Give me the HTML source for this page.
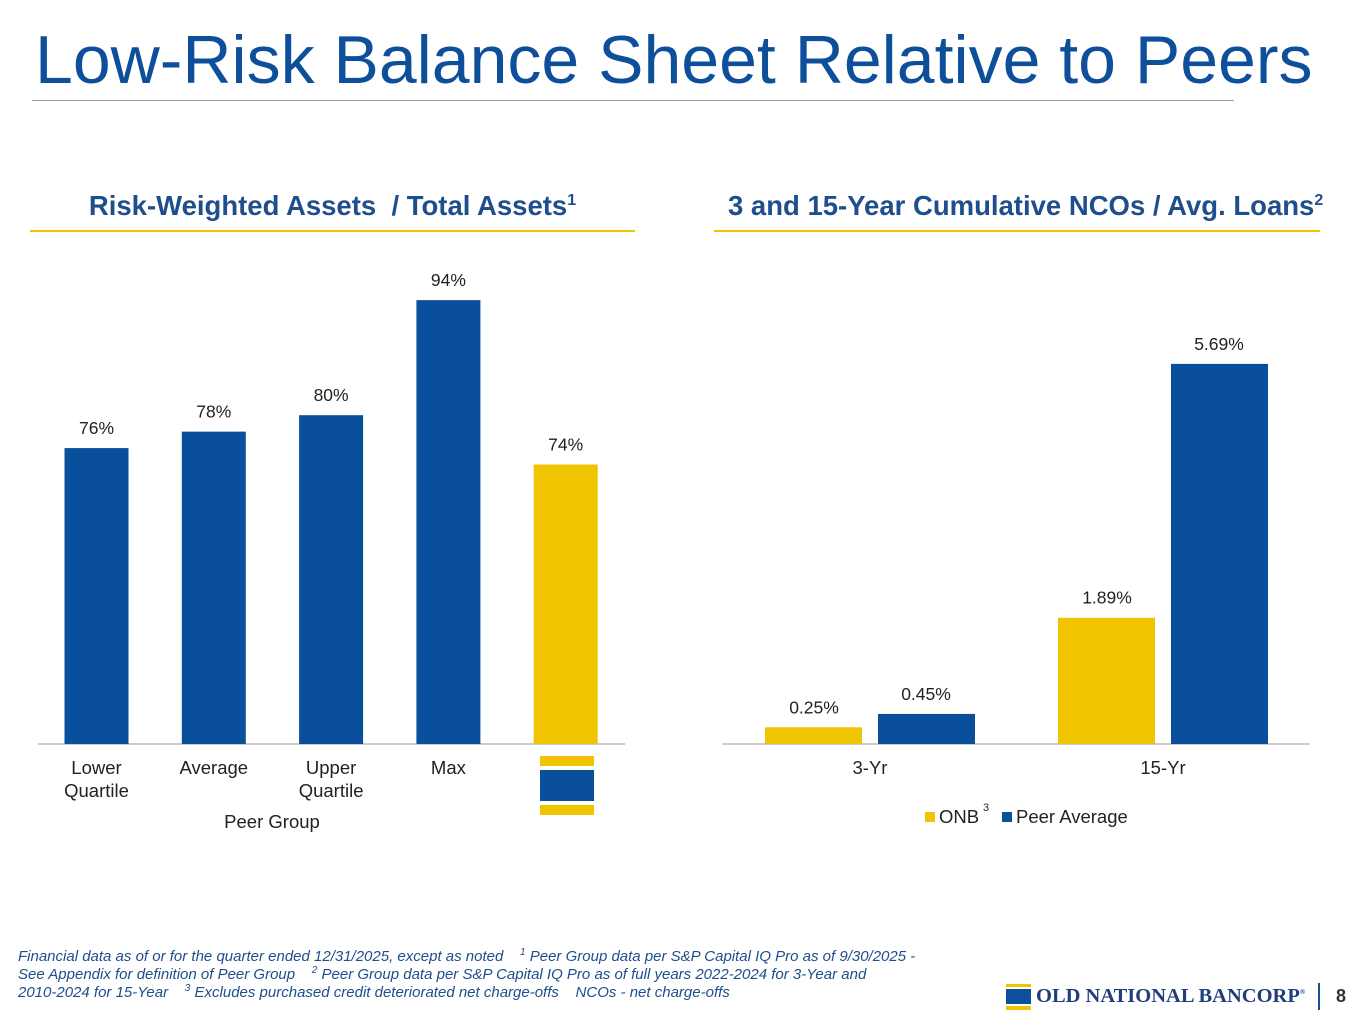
<!DOCTYPE html>
<html><head><meta charset="utf-8"><style>
body{margin:0;width:1365px;height:1024px;background:#fff;font-family:"Liberation Sans",sans-serif;position:relative;overflow:hidden}
.a{position:absolute}
sup{line-height:0}
</style></head><body>
<div class="a" style="left:35px;top:21px;font-size:68px;color:#0e4f9b;white-space:nowrap">Low-Risk Balance Sheet Relative to Peers</div>
<div class="a" style="left:32px;top:100px;width:1202px;height:1px;background:#999"></div>
<div class="a" style="left:30px;top:190px;width:605px;text-align:center;font-size:27.5px;font-weight:bold;color:#1f4e8c;white-space:nowrap">Risk-Weighted Assets &nbsp;/ Total Assets<sup style="font-size:16px">1</sup></div>
<div class="a" style="left:30px;top:230px;width:605px;height:2px;background:#f0c400"></div>
<div class="a" style="left:728px;top:190px;font-size:27.5px;font-weight:bold;color:#1f4e8c;white-space:nowrap">3 and 15-Year Cumulative NCOs / Avg. Loans<sup style="font-size:16px">2</sup></div>
<div class="a" style="left:714px;top:230px;width:606px;height:2px;background:#f0c400"></div>
<svg class="a" style="left:0;top:0" width="1365" height="1024" id="svg"></svg>
<div class="a" style="left:18px;top:948px;font-size:15px;font-style:italic;color:#1f4e8c;line-height:18px;white-space:nowrap">Financial data as of or for the quarter ended 12/31/2025, except as noted &nbsp;&nbsp;&nbsp;<sup style="font-size:10px">1</sup> Peer Group data per S&amp;P Capital IQ Pro as of 9/30/2025 -<br>See Appendix for definition of Peer Group &nbsp;&nbsp;&nbsp;<sup style="font-size:10px">2</sup> Peer Group data per S&amp;P Capital IQ Pro as of full years 2022-2024 for 3-Year and<br>2010-2024 for 15-Year &nbsp;&nbsp;&nbsp;<sup style="font-size:10px">3</sup> Excludes purchased credit deteriorated net charge-offs &nbsp;&nbsp;&nbsp;NCOs - net charge-offs</div>
<div class="a" style="left:1006px;top:984px;width:25px;height:26px">
<div class="a" style="left:0;top:0;width:25px;height:3px;background:#f0c400"></div>
<div class="a" style="left:0;top:5px;width:25px;height:15px;background:#0e4f9b"></div>
<div class="a" style="left:0;top:22px;width:25px;height:4px;background:#f0c400"></div></div>
<div class="a" style="left:1036px;top:985px;font-family:'Liberation Serif',serif;font-weight:bold;font-size:20.5px;color:#1f3e7a;white-space:nowrap">OLD NATIONAL BANCORP<sup style="font-size:7px">®</sup></div>
<div class="a" style="left:1318px;top:983px;width:2px;height:27px;background:#1f4e8c"></div>
<div class="a" style="left:1336px;top:986px;font-size:18px;font-weight:bold;color:#333">8</div>
<script>
const leftCats=["Lower|Quartile","Average","Upper|Quartile","Max",""];
const leftVals=[76,78,80,94,74];
const leftLabels=["76%","78%","80%","94%","74%"];
const rightCats=["3-Yr","15-Yr"];
const onbVals=[0.25,1.89];
const peerVals=[0.45,5.69];
const onbLabels=["0.25%","1.89%"];
const peerLabels=["0.45%","5.69%"];
const BLUE="#0a4f9c",YEL="#f0c400";
const svg=document.getElementById('svg');
function mk(t,at,txt){const e=document.createElementNS("http://www.w3.org/2000/svg",t);for(const k in at)e.setAttribute(k,at[k]);if(txt!==undefined)e.textContent=txt;svg.appendChild(e);return e;}
const base=744;
const yL=v=>base-(v-40)*8.22;
const xL=i=>96.5+i*117.3;
let e=mk('line',{x1:38,x2:625,y1:base,y2:base,stroke:'#ccc','stroke-width':2});

leftVals.forEach((v,i)=>{
 const b=mk('rect',{x:xL(i)-32,y:yL(v),width:64,height:base-yL(v),fill:i==4?YEL:BLUE});
 
 const t=mk('text',{x:xL(i),y:yL(v)-14,'text-anchor':'middle','font-size':17.5,fill:'#222'},leftLabels[i]);
 
 leftCats[i].split('|').forEach((s,j)=>{if(!s)return;
  const c=mk('text',{x:xL(i),y:774+j*23,'text-anchor':'middle','font-size':18.5,fill:'#222'},s);
  });
});
e=mk('text',{x:272,y:828,'text-anchor':'middle','font-size':18.5,fill:'#222'},'Peer Group');

[[756,10,YEL],[770,31,BLUE],[805,10,YEL]].forEach(r=>{const q=mk('rect',{x:540,y:r[0],width:54,height:r[1],fill:r[2]});
 });
const yR=v=>base-v*66.8;
const xR=i=>870+i*293;
e=mk('line',{x1:722,x2:1310,y1:base,y2:base,stroke:'#ccc','stroke-width':2});

rightCats.forEach((c,i)=>{
 const b1=mk('rect',{x:xR(i)-105,y:yR(onbVals[i]),width:97,height:base-yR(onbVals[i]),fill:YEL});
 
 const b2=mk('rect',{x:xR(i)+8,y:yR(peerVals[i]),width:97,height:base-yR(peerVals[i]),fill:BLUE});
 
 let t=mk('text',{x:xR(i)-56,y:yR(onbVals[i])-14,'text-anchor':'middle','font-size':17.5,fill:'#222'},onbLabels[i]);
 
 t=mk('text',{x:xR(i)+56,y:yR(peerVals[i])-14,'text-anchor':'middle','font-size':17.5,fill:'#222'},peerLabels[i]);
 
 t=mk('text',{x:xR(i),y:774,'text-anchor':'middle','font-size':18.5,fill:'#222'},c);
 
});
e=mk('rect',{x:925,y:812,width:10,height:10,fill:YEL});
e=mk('text',{x:939,y:823,'font-size':18.5,fill:'#222'},'ONB');
e=mk('text',{x:983,y:811,'font-size':11,fill:'#222'},'3');
e=mk('rect',{x:1002,y:812,width:10,height:10,fill:BLUE});
e=mk('text',{x:1016,y:823,'font-size':18.5,fill:'#222'},'Peer Average');
</script>
</body></html>
